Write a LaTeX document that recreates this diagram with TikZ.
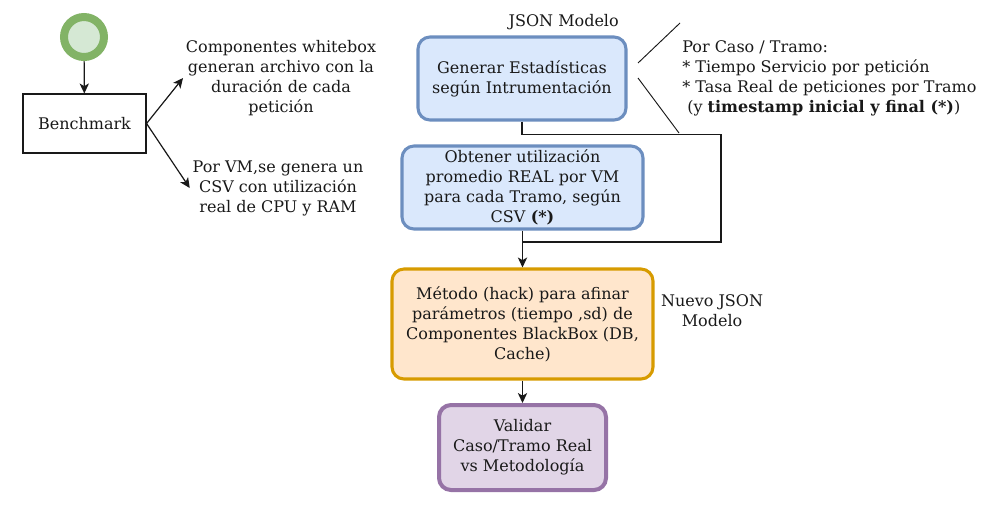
\documentclass[tikz,border=0pt]{standalone}
\usepackage{fontspec}
\setmainfont{DejaVu Serif}
\usepackage{tikz}
\usetikzlibrary{arrows.meta, positioning}
\usepackage{xcolor}
\definecolor{startFill}{RGB}{213, 232, 212}
\definecolor{startLine}{RGB}{130, 179, 102}
\definecolor{blueFill}{RGB}{218, 232, 252}
\definecolor{blueLine}{RGB}{108, 142, 191}
\definecolor{orangeFill}{RGB}{255, 230, 204}
\definecolor{orangeLine}{RGB}{215, 155, 0}
\definecolor{purpleFill}{RGB}{225, 213, 231}
\definecolor{purpleLine}{RGB}{150, 115, 166}
\definecolor{ink}{RGB}{25, 25, 25}

\begin{document}
\begin{tikzpicture}[x=0.75pt, y=-0.75pt, >={Stealth[length=7.5pt, width=7pt, inset=2pt]},
  font=\fontsize{12}{15}\selectfont, text=ink,
  conn/.style={line width=0.9pt, ink},
  procbox/.style={rectangle, rounded corners=9pt, line width=2.3pt, align=center, inner sep=2pt},
  note/.style={align=center, inner sep=2pt}]
  \useasboundingbox (0,0) rectangle (1005,512);

  % start and benchmark
  \node[circle, draw=startLine, fill=startFill, line width=6pt, minimum size=30pt, inner sep=0pt] (start) at (84,37) {};
  \node[rectangle, draw=ink, line width=0.8pt, minimum width=92.25pt, minimum height=44.25pt] (bench) at (84.5,123.5) {Benchmark};

  \node[note] (wbtext) at (281,78) {Componentes whitebox\\generan archivo con la\\duración de cada\\petición};
  \node[note] (vmtext) at (278,188) {Por VM,se genera un\\CSV con utilización\\real de CPU y RAM};

  % main flow
  \node[procbox, draw=blueLine, fill=blueFill, minimum width=156pt, minimum height=62.25pt] (gen) at (522,78.5)
    {Generar Estadísticas\\según Intrumentación};
  \node[procbox, draw=blueLine, fill=blueFill, minimum width=180.75pt, minimum height=62.25pt] (obt) at (522.5,187.5)
    {Obtener utilización\\promedio REAL por VM\\para cada Tramo, según\\CSV \textbf{(*)}};
  \node[procbox, draw=orangeLine, fill=orangeFill, minimum width=195.75pt, minimum height=82.5pt] (met) at (522.5,324)
    {Método (hack) para afinar\\parámetros (tiempo ,sd) de\\Componentes BlackBox (DB,\\Cache)};
  \node[procbox, draw=purpleLine, fill=purpleFill, line width=3pt, minimum width=125.25pt, minimum height=63.75pt] (val) at (522.5,447.5)
    {Validar\\Caso/Tramo Real\\vs Metodología};

  \node[anchor=east, inner sep=0pt] (json) at (619,22) {JSON Modelo};
  \node[note] (nuevo) at (712,311) {Nuevo JSON\\Modelo};
  \node[anchor=west, align=left, inner sep=0pt] (caso) at (682,78)
    {Por Caso / Tramo:\\* Tiempo Servicio por petición\\* Tasa Real de peticiones por Tramo\\\ (y \textbf{timestamp inicial y final (*)})};

  % callout brace
  \coordinate (cTop) at (680,23);
  \coordinate (cMidA) at (638,63);
  \coordinate (cMidB) at (638,78);
  \coordinate (cBot) at (679,133);
  \draw[conn, line width=0.7pt] (cTop) -- (cMidA);
  \draw[conn, line width=0.7pt] (cMidB) -- (cBot);

  % connectors
  \coordinate (loopR) at (721,188);
  \coordinate (merge) at (522.5,242);
  \draw[conn, ->] (start) -- (bench);
  \draw[conn, ->] (bench.east) -- (wbtext.west);
  \draw[conn, ->] (bench.east) -- (vmtext.west);
  \draw[conn] (gen.south) -- ++(0,13) -| (loopR) |- (merge);
  \draw[conn, ->] (obt.south) -- (met.north);
  \draw[conn, ->] (met.south) -- (val.north);
\end{tikzpicture}
\end{document}
